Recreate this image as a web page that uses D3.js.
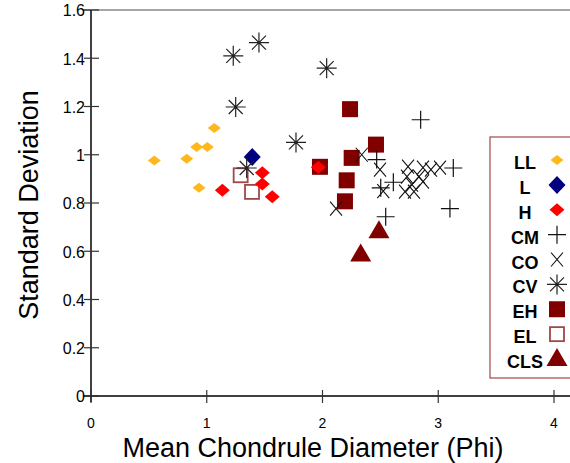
<!DOCTYPE html>
<html lang="en">
<head>
<meta charset="UTF-8">
<title>Chondrule size</title>
<script src="https://d3js.org/d3.v7.min.js"></script>
<style>
  body { margin: 0; background: #fff; }
  svg { display: block; font-family: "Liberation Sans", Arial, sans-serif; }
</style>
</head>
<body>
<svg id="chart" width="570" height="463"></svg>
<script>
// data: [mean phi, std dev]
var LL = [[0.547, 0.976], [0.827, 0.983], [0.913, 1.032], [1.005, 1.032], [1.065, 1.111], [0.933, 0.863]];
var L = [[1.393, 0.991]];
var H = [[1.135, 0.853], [1.48, 0.925], [1.48, 0.879], [1.566, 0.826], [1.964, 0.948]];
var CM = [[2.848, 1.145], [3.13, 0.945], [3.101, 0.777], [2.546, 0.743], [2.612, 0.886], [2.503, 0.863], [2.468, 0.98]];
var CO = [[2.339, 1.0], [2.497, 0.938], [2.117, 0.777], [2.525, 0.849],
          [2.739, 0.951], [2.868, 0.947], [2.937, 0.938], [3.015, 0.947], [2.73, 0.909],
          [2.834, 0.909], [2.868, 0.889], [2.773, 0.876], [2.713, 0.847], [2.79, 0.847]];
var CV = [[1.229, 1.41], [1.451, 1.465], [2.036, 1.359], [1.25, 1.198], [1.771, 1.051], [1.345, 0.945]];
var EH = [[2.238, 1.189], [2.462, 1.042], [2.252, 0.987], [1.978, 0.95], [2.209, 0.894], [2.194, 0.807]];
var EL = [[1.293, 0.915], [1.391, 0.846]];
var CLS = [[2.488, 0.683], [2.33, 0.587]];

var groupNames = ["LL", "L", "H", "CM", "CO", "CV", "EH", "EL", "CLS"];
var drawOrder = ["EH", "EL", "CLS", "LL", "L", "H", "CM", "CO", "CV"];
var xTicks = [0, 1, 2, 3, 4];
var yTicks = [0, 0.2, 0.4, 0.6, 0.8, 1, 1.2, 1.4, 1.6];

var svg = d3.select("#chart");
var x = d3.scaleLinear().domain([0, 4]).range([91, 554]);
var y = d3.scaleLinear().domain([0, 1.6]).range([396, 10]);

// marker drawers
function diamond(g, w, h, col) {
  g.append("path").attr("d", "M0," + (-h) + "L" + w + ",0L0," + h + "L" + (-w) + ",0Z").attr("fill", col);
}
var markers = {
  LL: g => diamond(g, 6.5, 5, "#ffb81c"),
  L: g => diamond(g, 8.5, 9, "#000080"),
  H: g => diamond(g, 7.5, 6.5, "#ff0000"),
  CM: g => {
    g.append("path").attr("d", "M-9,0H9M0,-9V9").attr("stroke", "#111").attr("stroke-width", 1.2);
  },
  CO: g => {
    g.append("path").attr("d", "M-6,-7L6,7M-6,7L6,-7").attr("stroke", "#111").attr("stroke-width", 1.1);
  },
  CV: g => {
    g.append("path").attr("d", "M-10,0H10M0,-10V10M-7,-7L7,7M-7,7L7,-7").attr("stroke", "#222").attr("stroke-width", 1.2);
  },
  EH: g => {
    g.append("rect").attr("x", -8).attr("y", -8).attr("width", 16).attr("height", 16).attr("fill", "#800000");
  },
  EL: g => {
    g.append("rect").attr("x", -7).attr("y", -7).attr("width", 14).attr("height", 14)
      .attr("fill", "none").attr("stroke", "#a04848").attr("stroke-width", 1.8);
  },
  CLS: g => {
    g.append("path").attr("d", "M0,-11L10.5,7H-10.5Z").attr("fill", "#800000");
  }
};
var groups = { LL: LL, L: L, H: H, CM: CM, CO: CO, CV: CV, EH: EH, EL: EL, CLS: CLS };

// frame / axes
svg.append("line").attr("x1", 83).attr("x2", 570).attr("y1", y(1.6)).attr("y2", y(1.6))
  .attr("stroke", "#888").attr("stroke-width", 1.5);
svg.append("line").attr("x1", x(0)).attr("x2", x(0)).attr("y1", y(1.6)).attr("y2", y(0) + 6)
  .attr("stroke", "#000").attr("stroke-width", 1.5);
svg.append("line").attr("x1", 83).attr("x2", 570).attr("y1", y(0)).attr("y2", y(0))
  .attr("stroke", "#000").attr("stroke-width", 1.5);

svg.selectAll(".xt").data(xTicks).enter().append("line")
  .attr("x1", d => x(d)).attr("x2", d => x(d)).attr("y1", y(0) - 6).attr("y2", y(0) + 7)
  .attr("stroke", "#333").attr("stroke-width", 1.2);
svg.selectAll(".xl").data(xTicks).enter().append("text")
  .attr("x", d => x(d)).attr("y", 428).attr("text-anchor", "middle")
  .attr("font-size", 14).text(d => d);

svg.selectAll(".yt").data(yTicks).enter().append("line")
  .attr("x1", x(0) - 7).attr("x2", x(0) + 8).attr("y1", d => y(d)).attr("y2", d => y(d))
  .attr("stroke", "#333").attr("stroke-width", 1.2);
svg.selectAll(".yl").data(yTicks).enter().append("text")
  .attr("x", 85).attr("y", d => y(d)).attr("dy", "0.4em").attr("text-anchor", "end")
  .attr("font-size", 16).text(d => d);

svg.append("text").attr("x", 313).attr("y", 457).attr("text-anchor", "middle")
  .attr("font-size", 27).text("Mean Chondrule Diameter (Phi)");
svg.append("text").attr("transform", "translate(38,205) rotate(-90)").attr("text-anchor", "middle")
  .attr("font-size", 27).text("Standard Deviation");

// points
drawOrder.forEach(function (name) {
  svg.append("g").selectAll("g").data(groups[name]).enter().append("g")
    .attr("transform", d => "translate(" + x(d[0]) + "," + y(d[1]) + ")")
    .each(function () { markers[name](d3.select(this)); });
});

// legend
var leg = svg.append("g");
leg.append("rect").attr("x", 490).attr("y", 137).attr("width", 100).attr("height", 241)
  .attr("fill", "#fff").attr("stroke", "#a04848").attr("stroke-width", 1.2);
var ly = d3.scalePoint().domain(groupNames).range([169, 368]);
groupNames.forEach(function (name) {
  leg.append("text").attr("x", 525).attr("y", ly(name)).attr("text-anchor", "middle")
    .attr("font-size", 18).attr("font-weight", "bold").text(name);
  var g = leg.append("g").attr("transform", "translate(557," + (ly(name) - 9) + ")");
  markers[name](g);
});
</script>
</body>
</html>
